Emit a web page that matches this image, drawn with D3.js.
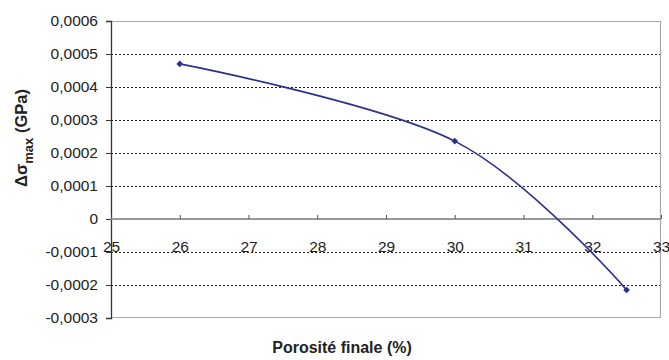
<!DOCTYPE html>
<html><head><meta charset="utf-8">
<script src="https://cdn.jsdelivr.net/npm/d3@7"></script>
<style>body{margin:0;background:#fff}svg{display:block}</style>
</head><body>
<svg id="c" width="669" height="360"></svg>
<script>
const porosity = [26, 30, 32.5];
const deltaSigma = [0.00047, 0.000236, -0.000215];
const xTicks = [25, 26, 27, 28, 29, 30, 31, 32, 33];
const yTicks = [-0.0003, -0.0002, -0.0001, 0, 0.0001, 0.0002, 0.0003, 0.0004, 0.0005, 0.0006];

const svg = d3.select("#c");
const L = 111, R = 661, T = 21, B = 318;
const x = d3.scaleLinear().domain([25, 33]).range([L, R]);
const y = d3.scaleLinear().domain([-0.0003, 0.0006]).range([B, T]);
const fmt = v => v === 0 ? "0" : d3.format(".4f")(v).replace(".", ",").replace("−", "-");
const font = "Arial, 'Liberation Sans', sans-serif";

// gridlines
svg.append("g").selectAll("line").data(yTicks.filter(v => v !== 0 && v !== 0.0006 && v !== -0.0003))
  .join("line").attr("x1", L).attr("x2", R).attr("y1", d => Math.round(y(d)) + 0.5).attr("y2", d => Math.round(y(d)) + 0.5)
  .attr("stroke", "#222").attr("stroke-width", 1).attr("stroke-dasharray", "2,2");

// frame (top, right, bottom)
svg.append("path").attr("d", `M${L},${T + 0.5}H${R - 0.5}V${B - 0.5}H${L}`)
  .attr("fill", "none").attr("stroke", "#aaa").attr("stroke-width", 1.2);

// y axis
const yAxis = d3.axisLeft(y).tickValues(yTicks).tickSize(5).tickFormat(fmt);
const gy = svg.append("g").attr("transform", `translate(${L},0)`).call(yAxis);
gy.select(".domain").attr("stroke", "#333").attr("stroke-width", 1.3);
gy.selectAll(".tick line").attr("stroke", "#333");
gy.selectAll("text").attr("font-family", font).attr("font-size", 15.5).attr("fill", "#222").attr("x", -13);

// x axis on zero line
const xAxis = d3.axisBottom(x).tickValues(xTicks).tickSize(4).tickFormat(d3.format("d"));
const gx = svg.append("g").attr("transform", `translate(0,${y(0)})`).call(xAxis);
gx.select(".domain").attr("stroke", "#999").attr("stroke-width", 2.2).attr("d", `M${L},0H${R}`);
gx.selectAll(".tick line").attr("stroke", "#555").attr("y1", -4).attr("y2", 0);
gx.selectAll("text").attr("font-family", font).attr("font-size", 15.5).attr("fill", "#222").attr("dy", "0").attr("y", 33);

// line
const pts = porosity.map((p, i) => [p, deltaSigma[i]]);
svg.append("path").datum(pts)
  .attr("d", d3.line().x(d => x(d[0])).y(d => y(d[1])).curve(d3.curveCatmullRom.alpha(0)))
  .attr("fill", "none").attr("stroke", "#2b2f8f").attr("stroke-width", 1.6);

svg.append("g").selectAll("path").data(pts).join("path")
  .attr("transform", d => `translate(${x(d[0])},${y(d[1])}) rotate(45)`)
  .attr("d", d3.symbol(d3.symbolSquare, 22))
  .attr("fill", "#2b2f8f");

// axis titles
svg.append("text").attr("x", 342).attr("y", 353).attr("text-anchor", "middle")
  .attr("font-family", font).attr("font-size", 16).attr("font-weight", "bold").attr("fill", "#222")
  .text("Porosité finale (%)");

const yl = svg.append("text").attr("transform", "translate(27,138) rotate(-90)").attr("text-anchor", "middle")
  .attr("font-family", font).attr("font-size", 16.5).attr("font-weight", "bold").attr("fill", "#222");
yl.append("tspan").text("Δσ");
yl.append("tspan").attr("font-size", 13).attr("dy", 6).text("max");
yl.append("tspan").attr("dy", -6).text(" (GPa)");
</script>
</body></html>
